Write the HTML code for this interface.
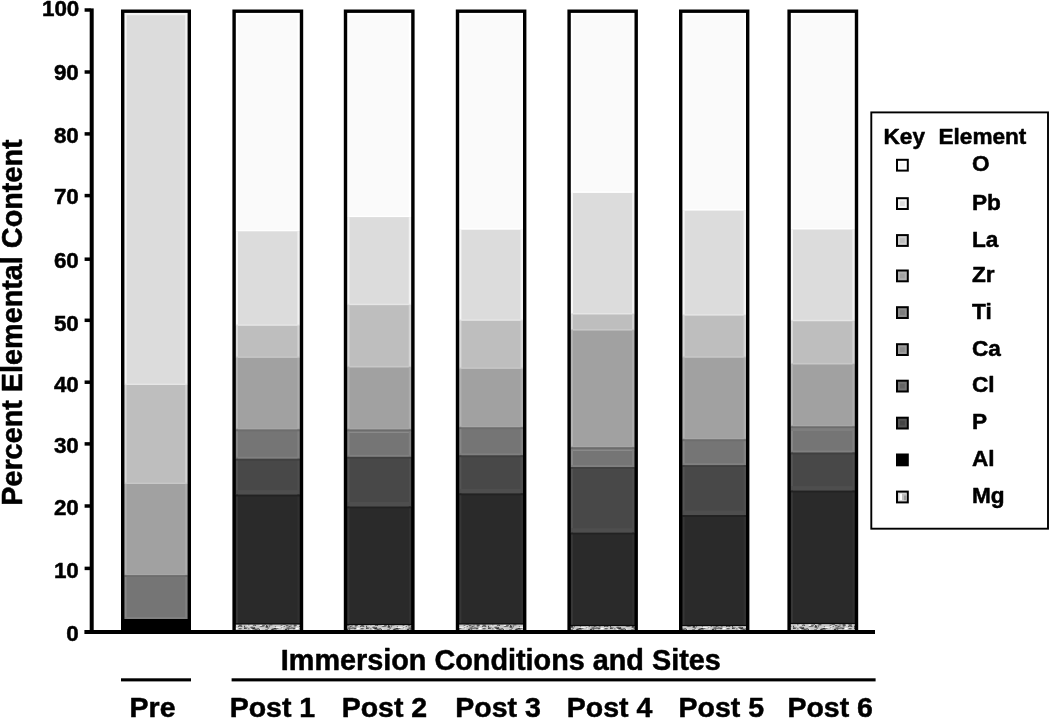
<!DOCTYPE html>
<html lang="en"><head><meta charset="utf-8"><title>Percent Elemental Content</title>
<style>
html,body{margin:0;padding:0;background:#fff;}
body{width:1050px;height:718px;overflow:hidden;}
svg{display:block;}
text{font-family:"Liberation Sans",sans-serif;font-weight:bold;fill:#000;stroke:#000;stroke-width:0.5px;stroke-linejoin:round;}
.tick{font-size:22.4px;text-anchor:end;}
.xl{font-size:28.5px;}
.ttl{font-size:28.8px;}
.lg{font-size:22.6px;}
</style></head><body>
<svg width="1050" height="718" viewBox="0 0 1050 718">
<defs><pattern id="mg" x="0" y="624" width="61" height="6" patternUnits="userSpaceOnUse"><rect width="61" height="6" fill="#c9c9c9"/><rect x="19.1" y="0.8" width="3.0" height="0.8" fill="#303030" transform="skewX(-35)"/><rect x="21.6" y="0.3" width="2.5" height="0.7" fill="#e8e8e8" transform="skewX(20)"/><rect x="4.1" y="0.5" width="2.3" height="1.4" fill="#f4f4f4" transform="skewX(-25)"/><rect x="37.2" y="2.9" width="1.2" height="1.2" fill="#ffffff" transform="skewX(-25)"/><rect x="2.7" y="4.3" width="1.9" height="0.8" fill="#f4f4f4" transform="skewX(0)"/><rect x="33.1" y="3.4" width="1.3" height="1.2" fill="#3a3a3a" transform="skewX(0)"/><rect x="5.7" y="3.6" width="2.7" height="1.2" fill="#222222" transform="skewX(20)"/><rect x="45.9" y="2.3" width="3.8" height="1.0" fill="#3a3a3a" transform="skewX(-25)"/><rect x="41.2" y="1.2" width="2.7" height="1.1" fill="#444444" transform="skewX(20)"/><rect x="17.0" y="4.9" width="1.4" height="1.0" fill="#444444" transform="skewX(-25)"/><rect x="55.1" y="2.1" width="3.9" height="0.8" fill="#303030" transform="skewX(0)"/><rect x="20.1" y="1.8" width="2.5" height="1.3" fill="#f4f4f4" transform="skewX(-35)"/><rect x="55.7" y="2.4" width="3.0" height="0.7" fill="#6a6a6a" transform="skewX(20)"/><rect x="16.8" y="1.9" width="3.0" height="0.7" fill="#222222" transform="skewX(0)"/><rect x="9.9" y="0.6" width="1.2" height="1.3" fill="#555555" transform="skewX(-25)"/><rect x="23.5" y="4.6" width="2.5" height="0.8" fill="#e8e8e8" transform="skewX(0)"/><rect x="52.1" y="4.1" width="3.6" height="0.9" fill="#e8e8e8" transform="skewX(0)"/><rect x="40.3" y="1.9" width="1.7" height="0.8" fill="#555555" transform="skewX(-25)"/><rect x="38.9" y="0.1" width="3.5" height="0.8" fill="#6a6a6a" transform="skewX(-35)"/><rect x="8.6" y="2.7" width="2.8" height="1.0" fill="#555555" transform="skewX(-35)"/><rect x="26.9" y="4.4" width="3.9" height="1.2" fill="#303030" transform="skewX(20)"/><rect x="23.5" y="2.0" width="2.4" height="1.0" fill="#3a3a3a" transform="skewX(-35)"/><rect x="58.1" y="2.2" width="1.3" height="1.2" fill="#f4f4f4" transform="skewX(-35)"/><rect x="33.4" y="2.7" width="3.8" height="1.2" fill="#f4f4f4" transform="skewX(-25)"/><rect x="36.2" y="0.7" width="1.8" height="1.0" fill="#444444" transform="skewX(20)"/><rect x="7.2" y="4.2" width="4.0" height="1.1" fill="#222222" transform="skewX(0)"/><rect x="5.1" y="0.5" width="2.0" height="0.9" fill="#555555" transform="skewX(-35)"/><rect x="12.1" y="4.8" width="2.1" height="1.3" fill="#ffffff" transform="skewX(0)"/><rect x="57.7" y="4.3" width="3.1" height="0.9" fill="#444444" transform="skewX(-25)"/><rect x="21.0" y="1.1" width="2.6" height="1.1" fill="#3a3a3a" transform="skewX(-25)"/><rect x="47.6" y="4.1" width="3.2" height="0.9" fill="#303030" transform="skewX(20)"/><rect x="21.0" y="0.1" width="1.1" height="0.9" fill="#6a6a6a" transform="skewX(-25)"/><rect x="40.9" y="4.8" width="2.3" height="1.4" fill="#444444" transform="skewX(0)"/><rect x="4.8" y="0.5" width="2.4" height="1.0" fill="#222222" transform="skewX(-35)"/><rect x="28.3" y="3.3" width="3.4" height="0.8" fill="#f4f4f4" transform="skewX(20)"/><rect x="46.2" y="3.8" width="2.4" height="0.8" fill="#444444" transform="skewX(-35)"/><rect x="47.2" y="4.9" width="2.2" height="1.0" fill="#f4f4f4" transform="skewX(-25)"/><rect x="10.0" y="0.6" width="1.5" height="1.4" fill="#555555" transform="skewX(20)"/><rect x="38.8" y="1.8" width="2.6" height="0.8" fill="#ffffff" transform="skewX(-35)"/><rect x="31.1" y="4.7" width="2.3" height="1.4" fill="#3a3a3a" transform="skewX(-35)"/><rect x="14.9" y="1.5" width="1.7" height="1.2" fill="#6a6a6a" transform="skewX(20)"/><rect x="49.2" y="0.3" width="3.2" height="1.4" fill="#303030" transform="skewX(20)"/><rect x="48.8" y="4.4" width="1.4" height="0.8" fill="#303030" transform="skewX(-35)"/><rect x="51.5" y="3.9" width="2.8" height="1.3" fill="#555555" transform="skewX(-25)"/><rect x="8.4" y="3.1" width="1.4" height="0.7" fill="#303030" transform="skewX(20)"/><rect x="46.3" y="0.5" width="2.7" height="0.9" fill="#6a6a6a" transform="skewX(-35)"/><rect x="45.6" y="2.5" width="2.7" height="1.3" fill="#f4f4f4" transform="skewX(20)"/><rect x="19.2" y="4.9" width="2.8" height="0.9" fill="#6a6a6a" transform="skewX(20)"/><rect x="30.0" y="4.0" width="2.5" height="0.9" fill="#303030" transform="skewX(0)"/><rect x="54.4" y="4.5" width="1.6" height="1.1" fill="#e8e8e8" transform="skewX(-35)"/><rect x="23.1" y="1.6" width="3.0" height="1.0" fill="#3a3a3a" transform="skewX(0)"/><rect x="46.3" y="4.5" width="1.5" height="1.3" fill="#444444" transform="skewX(-25)"/><rect x="14.9" y="0.7" width="2.4" height="1.3" fill="#f4f4f4" transform="skewX(20)"/><rect x="52.2" y="0.8" width="3.0" height="0.9" fill="#e8e8e8" transform="skewX(20)"/><rect x="20.0" y="1.0" width="2.0" height="1.3" fill="#ffffff" transform="skewX(0)"/><rect x="32.7" y="2.2" width="1.1" height="1.0" fill="#6a6a6a" transform="skewX(-35)"/><rect x="6.7" y="4.6" width="1.7" height="1.4" fill="#f4f4f4" transform="skewX(0)"/><rect x="16.0" y="4.5" width="1.5" height="1.3" fill="#e8e8e8" transform="skewX(0)"/><rect x="24.0" y="2.7" width="2.5" height="1.1" fill="#444444" transform="skewX(-35)"/><rect x="16.5" y="4.0" width="1.6" height="1.4" fill="#6a6a6a" transform="skewX(-35)"/><rect x="37.4" y="4.0" width="1.3" height="1.4" fill="#f4f4f4" transform="skewX(0)"/><rect x="50.9" y="2.3" width="2.0" height="1.1" fill="#6a6a6a" transform="skewX(-25)"/><rect x="2.5" y="3.5" width="3.8" height="1.5" fill="#6a6a6a" transform="skewX(-35)"/><rect x="10.7" y="4.7" width="2.9" height="1.1" fill="#3a3a3a" transform="skewX(0)"/><rect x="26.3" y="3.4" width="1.8" height="1.3" fill="#6a6a6a" transform="skewX(-35)"/><rect x="0.9" y="3.7" width="2.7" height="0.9" fill="#222222" transform="skewX(-25)"/><rect x="55.1" y="0.5" width="3.5" height="1.0" fill="#222222" transform="skewX(20)"/><rect x="57.2" y="1.5" width="1.6" height="0.9" fill="#3a3a3a" transform="skewX(-25)"/><rect x="23.9" y="1.7" width="1.2" height="0.8" fill="#f4f4f4" transform="skewX(0)"/><rect x="25.4" y="0.3" width="3.0" height="1.0" fill="#303030" transform="skewX(0)"/><rect x="35.3" y="3.5" width="1.1" height="0.8" fill="#6a6a6a" transform="skewX(20)"/><rect x="0.2" y="1.8" width="2.0" height="1.5" fill="#444444" transform="skewX(-25)"/><rect x="2.0" y="4.4" width="1.7" height="0.8" fill="#444444" transform="skewX(20)"/><rect x="4.9" y="1.4" width="3.0" height="0.9" fill="#ffffff" transform="skewX(-35)"/><rect x="15.6" y="0.4" width="2.2" height="0.7" fill="#ffffff" transform="skewX(0)"/><rect x="18.0" y="1.2" width="2.8" height="1.1" fill="#555555" transform="skewX(20)"/><rect x="45.1" y="3.6" width="2.5" height="0.9" fill="#555555" transform="skewX(-35)"/><rect x="48.7" y="3.6" width="2.5" height="1.0" fill="#303030" transform="skewX(-25)"/><rect x="53.7" y="3.8" width="2.7" height="1.4" fill="#ffffff" transform="skewX(-25)"/><rect x="5.0" y="0.2" width="2.9" height="1.5" fill="#e8e8e8" transform="skewX(20)"/></pattern></defs>
<rect width="1050" height="718" fill="#ffffff"/>
<rect x="122.7" y="11.0" width="66.6" height="374.0" fill="#dcdcdc"/>
<rect x="124.4" y="11.0" width="2.2" height="374.0" fill="#f8f8f8"/>
<rect x="185.2" y="11.0" width="2.4" height="374.0" fill="#f2f2f2"/>
<rect x="124.4" y="12.9" width="63.2" height="2.3" fill="#f4f4f4"/>
<rect x="124.4" y="383.6" width="63.2" height="1.4" fill="#e6e6e6"/>
<rect x="122.7" y="385.0" width="66.6" height="99.0" fill="#bebebe"/>
<rect x="124.4" y="385.0" width="2.2" height="99.0" fill="#dadada"/>
<rect x="185.2" y="385.0" width="2.4" height="99.0" fill="#d4d4d4"/>
<rect x="124.4" y="482.6" width="63.2" height="1.4" fill="#c8c8c8"/>
<rect x="122.7" y="484.0" width="66.6" height="91.2" fill="#a1a1a1"/>
<rect x="124.4" y="484.0" width="2.2" height="91.2" fill="#b3b3b3"/>
<rect x="185.2" y="484.0" width="2.4" height="91.2" fill="#adadad"/>
<rect x="124.4" y="573.8" width="63.2" height="1.4" fill="#a7a7a7"/>
<rect x="122.7" y="575.2" width="66.6" height="43.8" fill="#757575"/>
<rect x="124.4" y="575.2" width="2.2" height="43.8" fill="#878787"/>
<rect x="185.2" y="575.2" width="2.4" height="43.8" fill="#818181"/>
<rect x="124.4" y="575.2" width="63.2" height="1.8" fill="#6d6d6d"/>
<rect x="124.4" y="617.0" width="63.2" height="2.0" fill="#808080"/>
<rect x="122.7" y="619.0" width="66.6" height="13.0" fill="#000000"/>
<rect x="122.70" y="11.20" width="66.60" height="620.80" fill="none" stroke="#000" stroke-width="3.4"/>
<rect x="234.1" y="11.0" width="67.4" height="220.3" fill="#fafafa"/>
<rect x="235.8" y="11.0" width="2.2" height="220.3" fill="#ffffff"/>
<rect x="297.4" y="11.0" width="2.4" height="220.3" fill="#ffffff"/>
<rect x="235.8" y="12.9" width="64.0" height="2.3" fill="#ffffff"/>
<rect x="235.8" y="229.9" width="64.0" height="1.4" fill="#ffffff"/>
<rect x="234.1" y="231.3" width="67.4" height="94.5" fill="#dcdcdc"/>
<rect x="235.8" y="231.3" width="2.2" height="94.5" fill="#f8f8f8"/>
<rect x="297.4" y="231.3" width="2.4" height="94.5" fill="#f2f2f2"/>
<rect x="235.8" y="324.4" width="64.0" height="1.4" fill="#e6e6e6"/>
<rect x="234.1" y="325.8" width="67.4" height="32.1" fill="#bebebe"/>
<rect x="235.8" y="325.8" width="2.2" height="32.1" fill="#dadada"/>
<rect x="297.4" y="325.8" width="2.4" height="32.1" fill="#d4d4d4"/>
<rect x="235.8" y="356.5" width="64.0" height="1.4" fill="#c8c8c8"/>
<rect x="234.1" y="357.9" width="67.4" height="71.6" fill="#a1a1a1"/>
<rect x="235.8" y="357.9" width="2.2" height="71.6" fill="#b3b3b3"/>
<rect x="297.4" y="357.9" width="2.4" height="71.6" fill="#adadad"/>
<rect x="235.8" y="428.1" width="64.0" height="1.4" fill="#a7a7a7"/>
<rect x="234.1" y="429.5" width="67.4" height="29.3" fill="#757575"/>
<rect x="235.8" y="429.5" width="2.2" height="29.3" fill="#878787"/>
<rect x="297.4" y="429.5" width="2.4" height="29.3" fill="#818181"/>
<rect x="235.8" y="429.5" width="64.0" height="1.8" fill="#6d6d6d"/>
<rect x="235.8" y="456.8" width="64.0" height="2.0" fill="#808080"/>
<rect x="234.1" y="458.8" width="67.4" height="35.8" fill="#484848"/>
<rect x="235.8" y="458.8" width="2.2" height="35.8" fill="#545454"/>
<rect x="297.4" y="458.8" width="2.4" height="35.8" fill="#4e4e4e"/>
<rect x="235.8" y="458.8" width="64.0" height="1.8" fill="#404040"/>
<rect x="235.8" y="490.1" width="64.0" height="4.5" fill="#4e4e4e"/>
<rect x="234.1" y="494.6" width="67.4" height="129.8" fill="#2a2a2a"/>
<rect x="235.8" y="494.6" width="2.2" height="129.8" fill="#363636"/>
<rect x="297.4" y="494.6" width="2.4" height="129.8" fill="#303030"/>
<rect x="235.8" y="494.6" width="64.0" height="1.8" fill="#222222"/>
<rect x="234.1" y="624.4" width="67.4" height="7.6" fill="url(#mg)"/>
<rect x="234.1" y="623.3" width="67.4" height="1.2" fill="#0c0c0c"/>
<rect x="234.10" y="11.20" width="67.40" height="620.80" fill="none" stroke="#000" stroke-width="3.4"/>
<rect x="345.5" y="11.0" width="67.4" height="206.1" fill="#fafafa"/>
<rect x="347.2" y="11.0" width="2.2" height="206.1" fill="#ffffff"/>
<rect x="408.8" y="11.0" width="2.4" height="206.1" fill="#ffffff"/>
<rect x="347.2" y="12.9" width="64.0" height="2.3" fill="#ffffff"/>
<rect x="347.2" y="215.7" width="64.0" height="1.4" fill="#ffffff"/>
<rect x="345.5" y="217.1" width="67.4" height="88.0" fill="#dcdcdc"/>
<rect x="347.2" y="217.1" width="2.2" height="88.0" fill="#f8f8f8"/>
<rect x="408.8" y="217.1" width="2.4" height="88.0" fill="#f2f2f2"/>
<rect x="347.2" y="303.7" width="64.0" height="1.4" fill="#e6e6e6"/>
<rect x="345.5" y="305.1" width="67.4" height="62.2" fill="#bebebe"/>
<rect x="347.2" y="305.1" width="2.2" height="62.2" fill="#dadada"/>
<rect x="408.8" y="305.1" width="2.4" height="62.2" fill="#d4d4d4"/>
<rect x="347.2" y="365.9" width="64.0" height="1.4" fill="#c8c8c8"/>
<rect x="345.5" y="367.3" width="67.4" height="62.2" fill="#a1a1a1"/>
<rect x="347.2" y="367.3" width="2.2" height="62.2" fill="#b3b3b3"/>
<rect x="408.8" y="367.3" width="2.4" height="62.2" fill="#adadad"/>
<rect x="347.2" y="428.1" width="64.0" height="1.4" fill="#a7a7a7"/>
<rect x="345.5" y="429.5" width="67.4" height="2.9" fill="#7a7a7a"/>
<rect x="347.2" y="429.5" width="2.2" height="2.9" fill="#8c8c8c"/>
<rect x="408.8" y="429.5" width="2.4" height="2.9" fill="#868686"/>
<rect x="347.2" y="429.5" width="64.0" height="1.9" fill="#6c6c6c"/>
<rect x="347.2" y="431.4" width="64.0" height="1.0" fill="#7e7e7e"/>
<rect x="345.5" y="432.4" width="67.4" height="24.5" fill="#757575"/>
<rect x="347.2" y="432.4" width="2.2" height="24.5" fill="#878787"/>
<rect x="408.8" y="432.4" width="2.4" height="24.5" fill="#818181"/>
<rect x="347.2" y="454.9" width="64.0" height="2.0" fill="#808080"/>
<rect x="345.5" y="456.9" width="67.4" height="49.6" fill="#484848"/>
<rect x="347.2" y="456.9" width="2.2" height="49.6" fill="#545454"/>
<rect x="408.8" y="456.9" width="2.4" height="49.6" fill="#4e4e4e"/>
<rect x="347.2" y="456.9" width="64.0" height="1.8" fill="#404040"/>
<rect x="347.2" y="502.0" width="64.0" height="4.5" fill="#4e4e4e"/>
<rect x="345.5" y="506.5" width="67.4" height="118.5" fill="#2a2a2a"/>
<rect x="347.2" y="506.5" width="2.2" height="118.5" fill="#363636"/>
<rect x="408.8" y="506.5" width="2.4" height="118.5" fill="#303030"/>
<rect x="347.2" y="506.5" width="64.0" height="1.8" fill="#222222"/>
<rect x="345.5" y="625.0" width="67.4" height="7.0" fill="url(#mg)"/>
<rect x="345.5" y="623.9" width="67.4" height="1.2" fill="#0c0c0c"/>
<rect x="345.50" y="11.20" width="67.40" height="620.80" fill="none" stroke="#000" stroke-width="3.4"/>
<rect x="457.5" y="11.0" width="67.2" height="218.7" fill="#fafafa"/>
<rect x="459.2" y="11.0" width="2.2" height="218.7" fill="#ffffff"/>
<rect x="520.6" y="11.0" width="2.4" height="218.7" fill="#ffffff"/>
<rect x="459.2" y="12.9" width="63.8" height="2.3" fill="#ffffff"/>
<rect x="459.2" y="228.3" width="63.8" height="1.4" fill="#ffffff"/>
<rect x="457.5" y="229.7" width="67.2" height="91.1" fill="#dcdcdc"/>
<rect x="459.2" y="229.7" width="2.2" height="91.1" fill="#f8f8f8"/>
<rect x="520.6" y="229.7" width="2.4" height="91.1" fill="#f2f2f2"/>
<rect x="459.2" y="319.4" width="63.8" height="1.4" fill="#e6e6e6"/>
<rect x="457.5" y="320.8" width="67.2" height="48.1" fill="#bebebe"/>
<rect x="459.2" y="320.8" width="2.2" height="48.1" fill="#dadada"/>
<rect x="520.6" y="320.8" width="2.4" height="48.1" fill="#d4d4d4"/>
<rect x="459.2" y="367.5" width="63.8" height="1.4" fill="#c8c8c8"/>
<rect x="457.5" y="368.9" width="67.2" height="58.5" fill="#a1a1a1"/>
<rect x="459.2" y="368.9" width="2.2" height="58.5" fill="#b3b3b3"/>
<rect x="520.6" y="368.9" width="2.4" height="58.5" fill="#adadad"/>
<rect x="459.2" y="426.0" width="63.8" height="1.4" fill="#a7a7a7"/>
<rect x="457.5" y="427.4" width="67.2" height="28.0" fill="#757575"/>
<rect x="459.2" y="427.4" width="2.2" height="28.0" fill="#878787"/>
<rect x="520.6" y="427.4" width="2.4" height="28.0" fill="#818181"/>
<rect x="459.2" y="427.4" width="63.8" height="1.8" fill="#6d6d6d"/>
<rect x="459.2" y="453.4" width="63.8" height="2.0" fill="#808080"/>
<rect x="457.5" y="455.4" width="67.2" height="38.0" fill="#484848"/>
<rect x="459.2" y="455.4" width="2.2" height="38.0" fill="#545454"/>
<rect x="520.6" y="455.4" width="2.4" height="38.0" fill="#4e4e4e"/>
<rect x="459.2" y="455.4" width="63.8" height="1.8" fill="#404040"/>
<rect x="459.2" y="488.9" width="63.8" height="4.5" fill="#4e4e4e"/>
<rect x="457.5" y="493.4" width="67.2" height="131.0" fill="#2a2a2a"/>
<rect x="459.2" y="493.4" width="2.2" height="131.0" fill="#363636"/>
<rect x="520.6" y="493.4" width="2.4" height="131.0" fill="#303030"/>
<rect x="459.2" y="493.4" width="63.8" height="1.8" fill="#222222"/>
<rect x="457.5" y="624.4" width="67.2" height="7.6" fill="url(#mg)"/>
<rect x="457.5" y="623.3" width="67.2" height="1.2" fill="#0c0c0c"/>
<rect x="457.50" y="11.20" width="67.20" height="620.80" fill="none" stroke="#000" stroke-width="3.4"/>
<rect x="569.1" y="11.0" width="67.1" height="181.9" fill="#fafafa"/>
<rect x="570.8" y="11.0" width="2.2" height="181.9" fill="#ffffff"/>
<rect x="632.1" y="11.0" width="2.4" height="181.9" fill="#ffffff"/>
<rect x="570.8" y="12.9" width="63.7" height="2.3" fill="#ffffff"/>
<rect x="570.8" y="191.5" width="63.7" height="1.4" fill="#ffffff"/>
<rect x="569.1" y="192.9" width="67.1" height="121.5" fill="#dcdcdc"/>
<rect x="570.8" y="192.9" width="2.2" height="121.5" fill="#f8f8f8"/>
<rect x="632.1" y="192.9" width="2.4" height="121.5" fill="#f2f2f2"/>
<rect x="570.8" y="313.0" width="63.7" height="1.4" fill="#e6e6e6"/>
<rect x="569.1" y="314.4" width="67.1" height="16.0" fill="#bebebe"/>
<rect x="570.8" y="314.4" width="2.2" height="16.0" fill="#dadada"/>
<rect x="632.1" y="314.4" width="2.4" height="16.0" fill="#d4d4d4"/>
<rect x="570.8" y="329.0" width="63.7" height="1.4" fill="#c8c8c8"/>
<rect x="569.1" y="330.4" width="67.1" height="116.9" fill="#a1a1a1"/>
<rect x="570.8" y="330.4" width="2.2" height="116.9" fill="#b3b3b3"/>
<rect x="632.1" y="330.4" width="2.4" height="116.9" fill="#adadad"/>
<rect x="570.8" y="445.9" width="63.7" height="1.4" fill="#a7a7a7"/>
<rect x="569.1" y="447.3" width="67.1" height="3.1" fill="#7a7a7a"/>
<rect x="570.8" y="447.3" width="2.2" height="3.1" fill="#8c8c8c"/>
<rect x="632.1" y="447.3" width="2.4" height="3.1" fill="#868686"/>
<rect x="570.8" y="447.3" width="63.7" height="1.9" fill="#6c6c6c"/>
<rect x="570.8" y="449.2" width="63.7" height="1.2" fill="#7e7e7e"/>
<rect x="569.1" y="450.4" width="67.1" height="16.7" fill="#757575"/>
<rect x="570.8" y="450.4" width="2.2" height="16.7" fill="#878787"/>
<rect x="632.1" y="450.4" width="2.4" height="16.7" fill="#818181"/>
<rect x="570.8" y="465.1" width="63.7" height="2.0" fill="#808080"/>
<rect x="569.1" y="467.1" width="67.1" height="65.6" fill="#484848"/>
<rect x="570.8" y="467.1" width="2.2" height="65.6" fill="#545454"/>
<rect x="632.1" y="467.1" width="2.4" height="65.6" fill="#4e4e4e"/>
<rect x="570.8" y="467.1" width="63.7" height="1.8" fill="#404040"/>
<rect x="570.8" y="528.2" width="63.7" height="4.5" fill="#4e4e4e"/>
<rect x="569.1" y="532.7" width="67.1" height="93.3" fill="#2a2a2a"/>
<rect x="570.8" y="532.7" width="2.2" height="93.3" fill="#363636"/>
<rect x="632.1" y="532.7" width="2.4" height="93.3" fill="#303030"/>
<rect x="570.8" y="532.7" width="63.7" height="1.8" fill="#222222"/>
<rect x="569.1" y="626.0" width="67.1" height="6.0" fill="url(#mg)"/>
<rect x="569.1" y="624.9" width="67.1" height="1.2" fill="#0c0c0c"/>
<rect x="569.10" y="11.20" width="67.10" height="620.80" fill="none" stroke="#000" stroke-width="3.4"/>
<rect x="680.7" y="11.0" width="67.0" height="199.6" fill="#fafafa"/>
<rect x="682.4" y="11.0" width="2.2" height="199.6" fill="#ffffff"/>
<rect x="743.6" y="11.0" width="2.4" height="199.6" fill="#ffffff"/>
<rect x="682.4" y="12.9" width="63.6" height="2.3" fill="#ffffff"/>
<rect x="682.4" y="209.2" width="63.6" height="1.4" fill="#ffffff"/>
<rect x="680.7" y="210.6" width="67.0" height="105.0" fill="#dcdcdc"/>
<rect x="682.4" y="210.6" width="2.2" height="105.0" fill="#f8f8f8"/>
<rect x="743.6" y="210.6" width="2.4" height="105.0" fill="#f2f2f2"/>
<rect x="682.4" y="314.2" width="63.6" height="1.4" fill="#e6e6e6"/>
<rect x="680.7" y="315.6" width="67.0" height="42.1" fill="#bebebe"/>
<rect x="682.4" y="315.6" width="2.2" height="42.1" fill="#dadada"/>
<rect x="743.6" y="315.6" width="2.4" height="42.1" fill="#d4d4d4"/>
<rect x="682.4" y="356.3" width="63.6" height="1.4" fill="#c8c8c8"/>
<rect x="680.7" y="357.7" width="67.0" height="81.7" fill="#a1a1a1"/>
<rect x="682.4" y="357.7" width="2.2" height="81.7" fill="#b3b3b3"/>
<rect x="743.6" y="357.7" width="2.4" height="81.7" fill="#adadad"/>
<rect x="682.4" y="438.0" width="63.6" height="1.4" fill="#a7a7a7"/>
<rect x="680.7" y="439.4" width="67.0" height="25.8" fill="#757575"/>
<rect x="682.4" y="439.4" width="2.2" height="25.8" fill="#878787"/>
<rect x="743.6" y="439.4" width="2.4" height="25.8" fill="#818181"/>
<rect x="682.4" y="439.4" width="63.6" height="1.8" fill="#6d6d6d"/>
<rect x="682.4" y="463.2" width="63.6" height="2.0" fill="#808080"/>
<rect x="680.7" y="465.2" width="67.0" height="49.9" fill="#484848"/>
<rect x="682.4" y="465.2" width="2.2" height="49.9" fill="#545454"/>
<rect x="743.6" y="465.2" width="2.4" height="49.9" fill="#4e4e4e"/>
<rect x="682.4" y="465.2" width="63.6" height="1.8" fill="#404040"/>
<rect x="682.4" y="510.6" width="63.6" height="4.5" fill="#4e4e4e"/>
<rect x="680.7" y="515.1" width="67.0" height="110.9" fill="#2a2a2a"/>
<rect x="682.4" y="515.1" width="2.2" height="110.9" fill="#363636"/>
<rect x="743.6" y="515.1" width="2.4" height="110.9" fill="#303030"/>
<rect x="682.4" y="515.1" width="63.6" height="1.8" fill="#222222"/>
<rect x="680.7" y="626.0" width="67.0" height="6.0" fill="url(#mg)"/>
<rect x="680.7" y="624.9" width="67.0" height="1.2" fill="#0c0c0c"/>
<rect x="680.70" y="11.20" width="67.00" height="620.80" fill="none" stroke="#000" stroke-width="3.4"/>
<rect x="789.1" y="11.0" width="67.4" height="218.5" fill="#fafafa"/>
<rect x="790.8" y="11.0" width="2.2" height="218.5" fill="#ffffff"/>
<rect x="852.4" y="11.0" width="2.4" height="218.5" fill="#ffffff"/>
<rect x="790.8" y="12.9" width="64.0" height="2.3" fill="#ffffff"/>
<rect x="790.8" y="228.1" width="64.0" height="1.4" fill="#ffffff"/>
<rect x="789.1" y="229.5" width="67.4" height="91.7" fill="#dcdcdc"/>
<rect x="790.8" y="229.5" width="2.2" height="91.7" fill="#f8f8f8"/>
<rect x="852.4" y="229.5" width="2.4" height="91.7" fill="#f2f2f2"/>
<rect x="790.8" y="319.8" width="64.0" height="1.4" fill="#e6e6e6"/>
<rect x="789.1" y="321.2" width="67.4" height="43.1" fill="#bebebe"/>
<rect x="790.8" y="321.2" width="2.2" height="43.1" fill="#dadada"/>
<rect x="852.4" y="321.2" width="2.4" height="43.1" fill="#d4d4d4"/>
<rect x="790.8" y="362.9" width="64.0" height="1.4" fill="#c8c8c8"/>
<rect x="789.1" y="364.3" width="67.4" height="62.1" fill="#a1a1a1"/>
<rect x="790.8" y="364.3" width="2.2" height="62.1" fill="#b3b3b3"/>
<rect x="852.4" y="364.3" width="2.4" height="62.1" fill="#adadad"/>
<rect x="790.8" y="425.0" width="64.0" height="1.4" fill="#a7a7a7"/>
<rect x="789.1" y="426.4" width="67.4" height="4.6" fill="#7a7a7a"/>
<rect x="790.8" y="426.4" width="2.2" height="4.6" fill="#8c8c8c"/>
<rect x="852.4" y="426.4" width="2.4" height="4.6" fill="#868686"/>
<rect x="790.8" y="426.4" width="64.0" height="1.9" fill="#6c6c6c"/>
<rect x="790.8" y="428.3" width="64.0" height="2.7" fill="#7e7e7e"/>
<rect x="789.1" y="431.0" width="67.4" height="21.6" fill="#757575"/>
<rect x="790.8" y="431.0" width="2.2" height="21.6" fill="#878787"/>
<rect x="852.4" y="431.0" width="2.4" height="21.6" fill="#818181"/>
<rect x="790.8" y="450.6" width="64.0" height="2.0" fill="#808080"/>
<rect x="789.1" y="452.6" width="67.4" height="38.0" fill="#484848"/>
<rect x="790.8" y="452.6" width="2.2" height="38.0" fill="#545454"/>
<rect x="852.4" y="452.6" width="2.4" height="38.0" fill="#4e4e4e"/>
<rect x="790.8" y="452.6" width="64.0" height="1.8" fill="#404040"/>
<rect x="790.8" y="486.1" width="64.0" height="4.5" fill="#4e4e4e"/>
<rect x="789.1" y="490.6" width="67.4" height="133.4" fill="#2a2a2a"/>
<rect x="790.8" y="490.6" width="2.2" height="133.4" fill="#363636"/>
<rect x="852.4" y="490.6" width="2.4" height="133.4" fill="#303030"/>
<rect x="790.8" y="490.6" width="64.0" height="1.8" fill="#222222"/>
<rect x="789.1" y="624.0" width="67.4" height="8.0" fill="url(#mg)"/>
<rect x="789.1" y="622.9" width="67.4" height="1.2" fill="#0c0c0c"/>
<rect x="789.10" y="11.20" width="67.40" height="620.80" fill="none" stroke="#000" stroke-width="3.4"/>
<rect x="89.7" y="8.4" width="4" height="625.6" fill="#000"/>
<rect x="84.4" y="630" width="790.6" height="4" fill="#000"/>
<rect x="84.6" y="566.65" width="6" height="3.5" fill="#000"/>
<rect x="84.6" y="504.25" width="6" height="3.5" fill="#000"/>
<rect x="84.6" y="442.15" width="6" height="3.5" fill="#000"/>
<rect x="84.6" y="380.45" width="6" height="3.5" fill="#000"/>
<rect x="84.6" y="318.55" width="6" height="3.5" fill="#000"/>
<rect x="84.6" y="257.45" width="6" height="3.5" fill="#000"/>
<rect x="84.6" y="193.85" width="6" height="3.5" fill="#000"/>
<rect x="84.6" y="132.15" width="6" height="3.5" fill="#000"/>
<rect x="84.6" y="70.25" width="6" height="3.5" fill="#000"/>
<rect x="84.6" y="8.25" width="6" height="3.5" fill="#000"/>
<text class="tick" x="78.8" y="641.0">0</text>
<text class="tick" x="78.8" y="577.5">10</text>
<text class="tick" x="78.8" y="515.3">20</text>
<text class="tick" x="78.8" y="453.1">30</text>
<text class="tick" x="78.8" y="391.7">40</text>
<text class="tick" x="78.8" y="330.8">50</text>
<text class="tick" x="78.8" y="267.6">60</text>
<text class="tick" x="78.8" y="204.3">70</text>
<text class="tick" x="78.8" y="142.6">80</text>
<text class="tick" x="78.8" y="80.2">90</text>
<text class="tick" x="79.3" y="16.3">100</text>
<text class="ttl" text-anchor="middle" transform="translate(21.8 322.6) rotate(-90)">Percent Elemental Content</text>
<text class="ttl" x="500.8" y="670.3" text-anchor="middle">Immersion Conditions and Sites</text>
<rect x="121" y="678.3" width="70" height="3.1" fill="#000"/>
<rect x="231.6" y="678.3" width="644" height="3.1" fill="#000"/>
<text class="xl" x="152.6" y="716.6" text-anchor="middle">Pre</text>
<text class="xl" x="272.4" y="716.6" text-anchor="middle">Post 1</text>
<text class="xl" x="384.4" y="716.6" text-anchor="middle">Post 2</text>
<text class="xl" x="498.0" y="716.6" text-anchor="middle">Post 3</text>
<text class="xl" x="609.6" y="716.6" text-anchor="middle">Post 4</text>
<text class="xl" x="721.3" y="716.6" text-anchor="middle">Post 5</text>
<text class="xl" x="830.2" y="716.6" text-anchor="middle">Post 6</text>
<rect x="871.3" y="112.4" width="176.7" height="416.3" fill="#fff" stroke="#000" stroke-width="1.9"/>
<text class="lg" x="883.5" y="143.5">Key</text>
<text class="lg" x="938.5" y="143.5">Element</text>
<rect x="897.0" y="159.8" width="10.8" height="10.8" fill="#ffffff" stroke="#000" stroke-width="2"/>
<rect x="900.0" y="162.8" width="4.8" height="4.8" fill="#f6f6f6"/>
<text class="lg" x="972" y="171.3">O</text>
<rect x="897.0" y="198.2" width="10.8" height="10.8" fill="#f4f4f4" stroke="#000" stroke-width="2"/>
<rect x="900.0" y="201.2" width="4.8" height="4.8" fill="#dcdcdc"/>
<text class="lg" x="972" y="209.7">Pb</text>
<rect x="897.0" y="235.1" width="10.8" height="10.8" fill="#d0d0d0" stroke="#000" stroke-width="2"/>
<rect x="900.0" y="238.1" width="4.8" height="4.8" fill="#bebebe"/>
<text class="lg" x="972" y="246.6">La</text>
<rect x="897.0" y="270.5" width="10.8" height="10.8" fill="#b2b2b2" stroke="#000" stroke-width="2"/>
<rect x="900.0" y="273.5" width="4.8" height="4.8" fill="#a2a2a2"/>
<text class="lg" x="972" y="282.0">Zr</text>
<rect x="897.0" y="307.2" width="10.8" height="10.8" fill="#8c8c8c" stroke="#000" stroke-width="2"/>
<rect x="900.0" y="310.2" width="4.8" height="4.8" fill="#7c7c7c"/>
<text class="lg" x="972" y="318.7">Ti</text>
<rect x="897.0" y="344.2" width="10.8" height="10.8" fill="#9c9c9c" stroke="#000" stroke-width="2"/>
<rect x="900.0" y="347.2" width="4.8" height="4.8" fill="#8c8c8c"/>
<text class="lg" x="972" y="355.7">Ca</text>
<rect x="897.0" y="380.7" width="10.8" height="10.8" fill="#747474" stroke="#000" stroke-width="2"/>
<rect x="900.0" y="383.7" width="4.8" height="4.8" fill="#646464"/>
<text class="lg" x="972" y="392.2">Cl</text>
<rect x="897.0" y="417.7" width="10.8" height="10.8" fill="#545454" stroke="#000" stroke-width="2"/>
<rect x="900.0" y="420.7" width="4.8" height="4.8" fill="#444444"/>
<text class="lg" x="972" y="429.2">P</text>
<rect x="897.0" y="454.5" width="10.8" height="10.8" fill="#000000" stroke="#000" stroke-width="2"/>
<text class="lg" x="972" y="466.0">Al</text>
<rect x="897.0" y="491.6" width="10.8" height="10.8" fill="#d6d6d6" stroke="#000" stroke-width="2"/>
<rect x="899.6" y="493.8" width="2.4" height="6.2" fill="#ffffff"/>
<rect x="902.0" y="493.8" width="4.6" height="6.4" fill="#c2c2c2"/>
<rect x="904.0" y="495.6" width="2.6" height="4.6" fill="#9c9c9c"/>
<text class="lg" x="972" y="503.1">Mg</text>
</svg>
</body></html>
